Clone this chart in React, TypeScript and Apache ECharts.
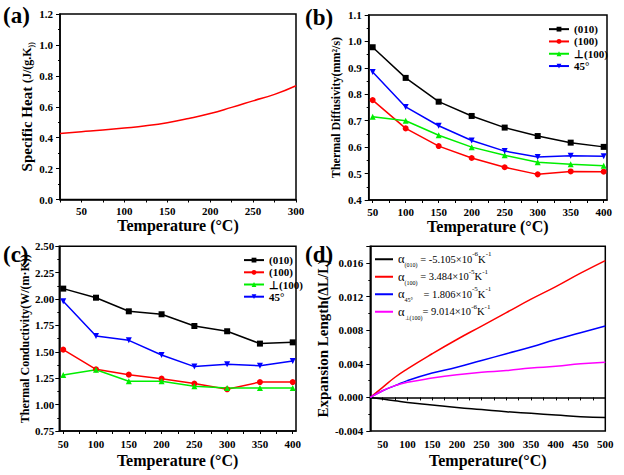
import React, { useEffect, useRef } from "react";
import * as echarts from "echarts";

const FONT = '"Liberation Serif", "Times New Roman", serif';

// (a) specific heat
const tempA = [25, 50, 75, 100, 125, 150, 175, 200, 225, 250, 275, 300];
const specificHeat = [0.427, 0.438, 0.449, 0.462, 0.477, 0.497, 0.524, 0.556, 0.596, 0.638, 0.680, 0.736];

// (b), (c) measured temperatures
const tempBC = [50, 100, 150, 200, 250, 300, 350, 400];
const tempBCTicks = [50, 75, 100, 125, 150, 175, 200, 225, 250, 275, 300, 325, 350, 375, 400];
const seriesNames = ["(010)", "(100)", "⊥(100)", "45°"];

const diff010 = [0.978, 0.862, 0.772, 0.718, 0.674, 0.642, 0.617, 0.601];
const diff100 = [0.778, 0.671, 0.604, 0.559, 0.524, 0.497, 0.508, 0.507];
const diffPerp = [0.715, 0.700, 0.645, 0.600, 0.569, 0.543, 0.535, 0.530];
const diff45 = [0.884, 0.752, 0.681, 0.625, 0.585, 0.563, 0.567, 0.566];

const cond010 = [2.099, 2.013, 1.884, 1.856, 1.745, 1.695, 1.578, 1.590];
const cond100 = [1.521, 1.334, 1.284, 1.246, 1.199, 1.145, 1.214, 1.214];
const condPerp = [1.281, 1.331, 1.221, 1.221, 1.173, 1.158, 1.158, 1.158];
const cond45 = [1.979, 1.650, 1.609, 1.470, 1.360, 1.382, 1.369, 1.413];

// (d) thermal expansion
const tempD = [25, 50, 75, 100, 150, 200, 250, 300, 350, 400, 450, 500];
const exp010 = [0, -0.0002, -0.0004, -0.0006, -0.0009, -0.0012, -0.00145, -0.0017, -0.0019, -0.0021, -0.0023, -0.0024];
const exp100 = [0, 0.0012, 0.0024, 0.0034, 0.0052, 0.0069, 0.0085, 0.0101, 0.0117, 0.0132, 0.0148, 0.0163];
const exp45 = [0, 0.0008, 0.0014, 0.0020, 0.0029, 0.0036, 0.0044, 0.0052, 0.0060, 0.0069, 0.0077, 0.0085];
const expPerp = [0, 0.0008, 0.0014, 0.0018, 0.0023, 0.0027, 0.0030, 0.0032, 0.0035, 0.0037, 0.0040, 0.0042];
const expNames = ["a010", "a100", "a45", "aPerp"];
const expLegend: Record<string, string> = {
  a010: "{g|α}{s|(010)}{t| = -5.105×10}{p|-6}{t|K}{p|-1}",
  a100: "{g|α}{s|(100)}{t| = 3.484×10}{p|-5}{t|K}{p|-1}",
  a45: "{g|α}{s|45°}{t|    = 1.806×10}{p|-5}{t|K}{p|-1}",
  aPerp: "{g|α}{s|⊥(100)}{t|= 9.014×10}{p|-6}{t|K}{p|-1}",
};

const COLORS = ["#000000", "#ff0000", "#00ee00", "#0000ff"];
const SYMBOLS = ["path://M0,0 L10,0 L10,10 L0,10 Z", "circle", "triangle", "path://M0,0 L10,0 L5,10 Z"];

const zip = (xs: number[], ys: number[]) => xs.map((x, i) => [x, ys[i]]);

const tickLabel = { fontFamily: FONT, fontWeight: "bold" as const, fontSize: 11, color: "#000" };
const axisLine = { show: true, lineStyle: { color: "#000", width: 1.5 } };
const nameStyle = { fontFamily: FONT, fontWeight: "bold" as const, fontSize: 16, color: "#000" };

function xAxisBase(gridIndex: number, name: string, gap: number) {
  return {
    type: "value",
    gridIndex,
    name,
    nameLocation: "middle",
    nameGap: gap,
    nameTextStyle: nameStyle,
    axisLine,
    axisTick: { show: true, length: 3, lineStyle: { color: "#000", width: 1 } },
    splitLine: { show: false },
  };
}

function yAxisBase(gridIndex: number, name: string, gap: number, digits: number, extra: any) {
  return {
    type: "value",
    gridIndex,
    name,
    nameLocation: "middle",
    nameGap: gap,
    nameTextStyle: { fontFamily: FONT, fontWeight: "bold", fontSize: 12, color: "#000" },
    axisLine,
    axisTick: { show: true, length: 4, lineStyle: { color: "#000", width: 1 } },
    minorTick: { show: true, splitNumber: 2, length: 2, lineStyle: { color: "#000", width: 1 } },
    splitLine: { show: false },
    minorSplitLine: { show: false },
    axisLabel: { ...tickLabel, margin: 7, formatter: (v: number) => v.toFixed(digits) },
    ...extra,
  };
}

const gridBase = { show: true, borderColor: "#000", borderWidth: 1.5, backgroundColor: "transparent", containLabel: false };

export default function App() {
  const ref = useRef<HTMLDivElement>(null);
  useEffect(() => {
    if (!ref.current) return;
    const chart = echarts.init(ref.current, undefined, { renderer: "svg" });
    const every50 = (v: number) => (v % 50 === 0 ? String(v) : "");
    const option: any = {
      animation: false,
      backgroundColor: "#ffffff",
      title: [
        { text: "(a)", left: 3, top: 4 },
        { text: "(b)", left: 305, top: 6 },
        { text: "(c)", left: 3, top: 243 },
        { text: "(d)", left: 305, top: 243 },
      ].map((t) => ({ ...t, padding: 0, textStyle: { fontFamily: FONT, fontWeight: "bold", fontSize: 23, color: "#000" } })),
      grid: [
        { ...gridBase, left: 60, top: 14, width: 236, height: 185.5 },
        { ...gridBase, left: 368.7, top: 15, width: 238.3, height: 185 },
        { ...gridBase, left: 59.3, top: 246.3, width: 236.7, height: 184.7 },
        { ...gridBase, left: 370.3, top: 246.3, width: 235, height: 184.7 },
      ],
      xAxis: [
        { ...xAxisBase(0, "Temperature (°C)", 18), min: 25, max: 300, interval: 25, axisLabel: { ...tickLabel, margin: 6, formatter: every50 } },
        {
          ...xAxisBase(1, "Temperature (°C)", 18), min: 44, max: 405,
          axisTick: { show: true, length: 3, customValues: tempBCTicks, lineStyle: { color: "#000", width: 1 } },
          axisLabel: { ...tickLabel, margin: 6, customValues: tempBC },
        },
        {
          ...xAxisBase(2, "Temperature (°C)", 21), min: 44, max: 405,
          axisTick: { show: true, length: 3, customValues: tempBCTicks, lineStyle: { color: "#000", width: 1 } },
          axisLabel: { ...tickLabel, margin: 7, customValues: tempBC },
        },
        { ...xAxisBase(3, "Temperature(°C)", 21), min: 25, max: 500, interval: 25, axisLabel: { ...tickLabel, margin: 7, formatter: every50 } },
      ],
      yAxis: [
        yAxisBase(0, "{m|Specific Heat }{n|(J/(g.K}{s|))}", 25, 1, {
          min: 0, max: 1.2, interval: 0.2,
          nameTextStyle: {
            fontFamily: FONT, fontWeight: "bold", color: "#000",
            rich: {
              m: { fontFamily: FONT, fontWeight: "bold", fontSize: 15, lineHeight: 16 },
              n: { fontFamily: FONT, fontWeight: "bold", fontSize: 12, lineHeight: 16 },
              s: { fontFamily: FONT, fontWeight: "bold", fontSize: 8, lineHeight: 8, verticalAlign: "bottom" },
            },
          },
        }),
        yAxisBase(1, "Thermal Diffusivity(mm²/s)", 27, 1, { min: 0.4, max: 1.1, interval: 0.1 }),
        yAxisBase(2, "Thermal Conductivity(W/(m·K))", 26, 2, { min: 0.75, max: 2.5, interval: 0.25, axisLabel: { ...tickLabel, margin: 5, formatter: (v: number) => v.toFixed(2) } }),
        yAxisBase(3, "{m|Expansion Length}{n|(ΔL/L)}", 33, 3, {
          min: -0.004, max: 0.018, interval: 0.004,
          axisLabel: { ...tickLabel, margin: 7, showMaxLabel: false, formatter: (v: number) => (Math.abs(v - 0.018) < 1e-9 ? "" : v.toFixed(3)) },
          nameTextStyle: {
            fontFamily: FONT, fontWeight: "bold", color: "#000",
            rich: {
              m: { fontFamily: FONT, fontWeight: "bold", fontSize: 15, lineHeight: 16 },
              n: { fontFamily: FONT, fontWeight: "bold", fontSize: 14, lineHeight: 16 },
            },
          },
        }),
      ],
      legend: [
        {
          left: 548, top: 23, orient: "vertical", itemWidth: 20, itemHeight: 6, itemGap: 0, padding: 0,
          data: seriesNames,
          textStyle: { fontFamily: FONT, fontWeight: "bold", fontSize: 11, lineHeight: 12.3, color: "#000" },
        },
        {
          left: 243, top: 254, orient: "vertical", itemWidth: 20, itemHeight: 6, itemGap: 0, padding: 0,
          data: seriesNames,
          textStyle: { fontFamily: FONT, fontWeight: "bold", fontSize: 11, lineHeight: 12.2, color: "#000" },
        },
        {
          left: 375, top: 250.5, orient: "vertical", itemWidth: 18, itemHeight: 2, itemGap: 0, padding: 0,
          data: expNames,
          icon: "rect",
          formatter: (n: string) => expLegend[n],
          textStyle: {
            fontFamily: FONT, fontSize: 10.5, color: "#000", lineHeight: 17.5,
            rich: {
              g: { fontFamily: FONT, fontSize: 12.5, lineHeight: 17.5 },
              t: { fontFamily: FONT, fontSize: 10.5, lineHeight: 17.5 },
              s: { fontFamily: FONT, fontSize: 6, lineHeight: 6, verticalAlign: "bottom" },
              p: { fontFamily: FONT, fontSize: 7, lineHeight: 7, verticalAlign: "top" },
            },
          },
        },
      ],
      series: [
        {
          type: "line", name: "Cp", xAxisIndex: 0, yAxisIndex: 0, data: zip(tempA, specificHeat),
          smooth: true, showSymbol: false, lineStyle: { color: "#ff0000", width: 1.5 }, itemStyle: { color: "#ff0000" },
        },
        ...[diff010, diff100, diffPerp, diff45].map((d, i) => ({
          type: "line", name: seriesNames[i], xAxisIndex: 1, yAxisIndex: 1, data: zip(tempBC, d),
          symbol: SYMBOLS[i], symbolSize: 6, lineStyle: { color: COLORS[i], width: 1.5 }, itemStyle: { color: COLORS[i] },
        })),
        ...[cond010, cond100, condPerp, cond45].map((d, i) => ({
          type: "line", name: seriesNames[i], xAxisIndex: 2, yAxisIndex: 2, data: zip(tempBC, d),
          symbol: SYMBOLS[i], symbolSize: 6, lineStyle: { color: COLORS[i], width: 1.5 }, itemStyle: { color: COLORS[i] },
        })),
        ...[exp010, exp100, exp45, expPerp].map((d, i) => {
          const c = ["#000000", "#ff0000", "#0000ff", "#ff00ff"][i];
          return {
            type: "line", name: expNames[i], xAxisIndex: 3, yAxisIndex: 3, data: zip(tempD, d),
            smooth: true, showSymbol: false, symbol: "none", lineStyle: { color: c, width: 1.5 }, itemStyle: { color: c },
          };
        }),
      ],
    };
    chart.setOption(option);
    return () => chart.dispose();
  }, []);
  return <div ref={ref} style={{ position: "fixed", left: 0, top: 0, width: 624, height: 475, background: "#fff" }} />;
}
